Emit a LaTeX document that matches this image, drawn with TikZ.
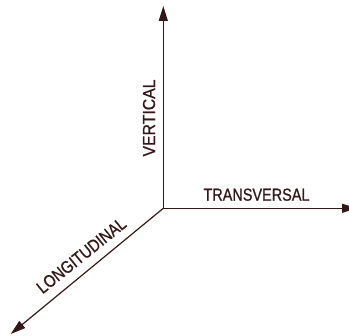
\documentclass[tikz,border=0pt]{standalone}
\usepackage{fontspec}
\usepackage{graphicx}
\setmainfont{Liberation Sans}
\newfontfamily\axfont[FakeBold=0.8]{Liberation Sans}
\usetikzlibrary{arrows.meta}
\definecolor{ink}{RGB}{52,24,24}
\newcommand{\axtext}[2]{\resizebox{#1}{\height}{#2}}
\tikzset{
  axis/.style={draw=ink, line width=1.2pt, -{Triangle[length=15pt,width=9pt]}},
  axlabel/.style={text=ink, inner sep=0pt, font=\axfont\fontsize{17.4}{19}\selectfont}
}
\begin{document}
\begin{tikzpicture}[x=1pt,y=-1pt]
\useasboundingbox (0,0) rectangle (349,336);
\clip (0,0) rectangle (349,336);
\coordinate (O) at (163.3,208.3);
\coordinate (V) at (163.3,6);
\coordinate (T) at (357,208.3);
\coordinate (L) at (10.7,334);
\draw[axis] (O) -- (V);
\draw[axis] (O) -- (T);
\draw[axis] (O) -- (L);
\node[axlabel, anchor=base west] (tl) at (203.3,200.7) {\axtext{106pt}{TRANSVERSAL}};
\node[axlabel, anchor=base west, rotate=90] (vl) at (155.0,156.7) {\axtext{77pt}{VERTICAL}};
\node[axlabel, anchor=base west, rotate=38.9] (ll) at (42.5,294.5) {\axtext{109pt}{LONGITUDINAL}};
\end{tikzpicture}
\end{document}
